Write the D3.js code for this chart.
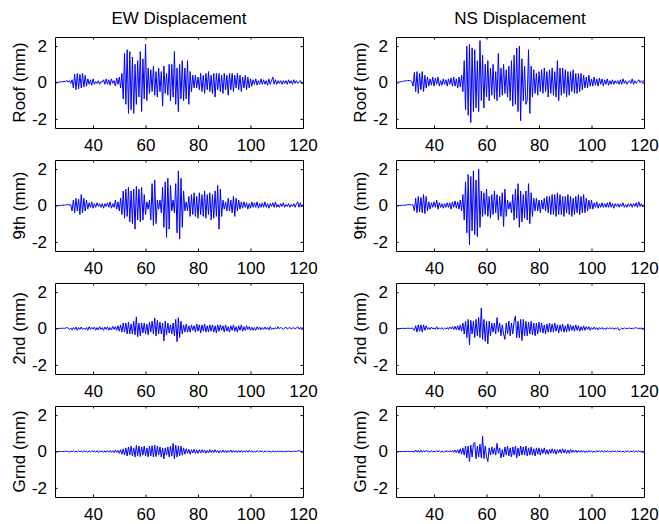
<!DOCTYPE html>
<html>
<head>
<meta charset="utf-8">
<script src="https://cdn.jsdelivr.net/npm/d3@7"></script>
<style>
  body { margin: 0; background: #fff; }
  svg text { font-family: "Liberation Sans", Arial, Helvetica, sans-serif; }
</style>
</head>
<body>
<div id="chart"></div>
<script>
// labels and axis settings
const columnTitles = ['EW Displacement', 'NS Displacement'];
const floorLabels = ['Roof (mm)', '9th (mm)', '2nd (mm)', 'Grnd (mm)'];
const xTicks = [40, 60, 80, 100, 120];
const yTicks = [-2, 0, 2];
const xDomain = [25.5, 120];
const yDomain = [-2.5, 2.5];

// samples are every 0.5 s starting at 25.5 s (mm)
const sampleStart = 25.5;
const sampleStep = 0.5;

const ewRoof = [
  0, .02, 0, .03, .02, .05, .03, .06, .04, .12, .02, .1, -.05, .15, -.3, .45, -.4, .5, -.35, .45,
  -.3, .5, -.25, .4, -.2, .2, -.1, .15, -.15, .2, -.1, .05, -.05, .1, -.1, .05, .02, .15, -.1, .2,
  -.1, .15, -.15, .2, -.05, .1, -.2, .25, -.1, .3, -.3, .5, -.9, 1.6, -1.2, 1.8, -1.7, 1.7, -1.5, 1.4,
  -1.7, 1.0, -1.2, 1.2, -.8, 1.7, -1.6, 1.3, -.9, 2.1, -1.0, .8, -.6, .7, -.5, .9, -.7, .6, -.8, .8,
  -.5, .6, -1.3, .9, -.6, .5, -.7, 1.0, -1.0, 1.0, -.8, 1.7, -1.2, .8, -1.6, 1.0, -.9, 1.2, -1.0, .8,
  -.9, 1.2, -1.2, .6, -.5, .4, -.3, .4, -.3, .3, -.4, .5, -.5, .4, -.6, .5, -.4, .6, -.5, .4,
  -.6, .5, -.8, .5, -.4, .5, -.5, .4, -.6, .5, -.4, .4, -.7, .5, -.4, .5, -.5, .4, -.3, .5,
  -.4, .4, -.5, .3, -.3, .4, -.4, .3, -.3, .2, -.2, .15, -.1, .2, -.15, .1, -.1, .2, -.1, .15,
  -.1, .1, -.15, .2, -.1, .1, .3, -.1, .15, -.1, .1, -.05, .1, -.1, .1, -.05, .1, -.1, .15, -.05,
  .1, -.1, .15, -.05, .1, -.05, .05, .1, -.05, .05
];
const nsRoof = [
  0, .01, .02, .03, .05, .05, .08, .1, .08, .12, .1, .1, .05, -.2, .55, -.5, .6, -.6, .5, -.4,
  .6, -.5, .4, -.3, .3, -.2, .2, -.15, .3, -.2, .25, -.1, .3, -.2, .1, -.15, .2, -.1, .15, -.2,
  .2, -.1, .25, -.2, .3, -.2, .2, -.3, .3, -.25, .4, -.5, 1.2, -1.5, 2.0, -1.8, 2.1, -2.2, 1.9, -1.6,
  1.8, -1.4, 1.2, -1.6, 2.3, -1.0, 1.5, -1.4, 1.0, -.8, 1.2, -1.0, .8, -.7, 1.0, -.9, .6, -1.0, 1.6, -.8,
  .8, -.7, 1.0, -.6, .7, -.8, .9, -1.0, 1.2, -1.3, 1.5, -1.2, 1.9, -1.6, 2.0, -2.1, 1.3, -1.0, .9, -1.2,
  -1.0, 1.8, -1.7, .9, -.8, .7, -.6, .5, -.7, .6, -.5, .7, -.6, .8, -.5, .6, -.8, .7, -.6, .8,
  -.7, .6, -.8, 1.2, -1.0, .8, -.7, .8, -.6, .7, -.8, .6, -.7, .6, -.5, .7, -.6, .5, -.6, .5,
  -.5, .5, -.4, .4, -.3, .3, -.3, .4, -.2, .2, -.2, .3, -.15, .2, -.2, .25, -.1, .2, -.2, .15,
  -.1, .2, -.15, .1, -.1, .15, -.1, .1, -.05, .1, -.1, .15, -.1, .2, -.05, .1, -.1, .05, .1, -.05,
  .2, -.1, .1, -.05, .05, .15, 0, .1, .05, .1
];
const ew9th = [
  0, 0, 0, .01, 0, .01, .02, .02, .03, .05, .04, .02, .05, -.3, .3, -.4, .4, -.3, .35, -.5,
  .6, -.4, .4, -.3, .3, -.2, .15, -.1, .2, -.15, .1, -.1, .15, -.05, .1, -.1, .1, -.15, .1, -.05,
  .15, -.1, .2, -.15, .1, -.1, .3, -.2, .2, -.3, .4, -.5, .8, -.7, .9, -.6, 1.0, -.9, .8, -1.0,
  .9, -1.3, 1.05, -.8, .9, -.9, 1.0, -.8, .6, -.5, .2, -.2, .3, -.8, 1.2, -1.1, 1.4, -1.0, .3, -.2,
  .3, -.4, 1.0, -1.2, 1.3, -1.75, 1.5, -1.3, 1.1, -.3, .3, -.4, 1.2, -1.5, 1.9, -1.85, 1.5, -1.2, .8, -.3,
  .2, -.3, .5, -.6, .6, -.5, .7, -.6, .5, -.7, .7, -.5, .6, -.6, .8, -.7, .6, -.5, .7, -.8,
  .6, -.7, .8, -.6, 1.1, -1.3, .9, -.6, .3, -.2, .2, -.3, .4, -.3, .3, -.4, .5, -.6, .4, -.3,
  .3, -.2, .2, -.15, .2, -.1, .15, -.2, .1, -.15, .2, -.1, .15, -.1, .2, -.15, .1, -.1, .15, -.1,
  .2, -.1, .1, -.15, .1, -.05, .15, -.1, .2, -.1, .05, -.1, .1, -.05, .15, -.1, .05, -.05, .1, -.1,
  .05, -.05, .1, -.1, .1, .2, -.1, .15, -.05, .05
];
const ns9th = [
  0, 0, 0, 0, .01, .02, .01, .02, .03, .05, .06, .03, .05, .02, -.3, .4, -.4, .5, -.35, .45,
  -.4, .6, -.45, .5, -.3, .2, -.2, .15, -.1, .2, -.1, .3, -.2, .15, -.1, .1, -.15, .1, -.1, .15,
  -.1, .15, -.2, .2, -.1, .25, -.15, .2, -.2, .3, -.3, .6, -.8, 1.3, -1.5, 1.7, -2.15, 1.6, -1.4, 1.9,
  -1.6, 1.4, -1.7, 2.0, -1.2, .8, -.6, .7, -.5, .9, -.6, .5, -.7, .6, -.5, .8, -.4, .6, -.8, .5,
  -.6, .7, -1.15, .9, -.6, .3, -.2, .2, -.4, .6, -.8, .9, -.7, 1.2, -1.2, .8, -.9, .6, -.7, .8,
  -.8, 1.2, -1.0, .7, -.6, .4, -.3, .4, -.3, .3, -.4, .3, -.2, .4, -.3, .5, -.4, .5, -.5, .6,
  -.5, .6, -.6, .7, -.5, .6, -.5, .5, -.6, .5, -.4, .6, -.5, .5, -.6, .4, -.5, .5, -.4, .6,
  -.5, .5, -.4, .6, -.4, .4, -.3, .3, -.2, .3, -.2, .15, -.1, .2, -.15, .1, -.1, .15, -.1, .1,
  -.1, .15, -.1, .2, -.1, .1, -.15, .1, -.05, .1, -.1, .1, -.05, .15, -.1, .05, -.1, .1, -.05, .1,
  -.1, .1, -.05, .15, -.1, .2, -.05, .1, -.05, .05
];
const ew2nd = [
  0, 0, 0, 0, .01, 0, .02, .01, .02, .06, .02, -.05, .03, -.08, .05, -.05, .08, -.1, .05, -.05,
  .08, -.05, .02, -.06, .05, -.1, .1, -.05, .06, -.03, .08, -.1, .05, -.08, .1, -.05, .05, -.1, .08, -.05,
  .1, -.1, .05, -.08, .12, -.05, .1, -.1, .15, -.15, .2, -.2, .3, -.2, .3, -.3, .35, -.3, .25, -.3,
  .4, -.35, .64, -.45, .3, -.4, .3, -.25, .3, -.3, .25, -.35, .35, -.2, .4, -.3, .58, -.4, .45, -.3,
  .35, -.3, .3, -.69, .4, -.35, .3, -.25, .2, -.3, .3, -.4, .5, -.73, .6, -.5, .4, -.3, .2, -.2,
  .25, -.2, .15, -.2, .2, -.1, .15, -.2, .25, -.15, .2, -.25, .2, -.15, .25, -.2, .15, -.2, .2, -.15,
  .2, -.2, .15, -.25, .2, -.15, .2, -.1, .15, -.2, .2, -.15, .1, -.2, .15, -.1, .2, -.15, .1, -.2,
  .15, -.1, .2, -.15, .1, -.1, .15, -.05, .1, -.1, .08, -.1, .05, -.1, .1, -.05, .08, -.08, .05, -.05,
  .08, -.05, .05, -.08, .1, -.05, .03, -.05, .05, -.03, .1, -.02, .05, .02, -.05, .02, .08, -.03, .02, .05,
  -.02, .02, .05, -.03, .02, .1, -.03, .05, .02, .03
];
const ns2nd = [
  0, 0, 0, 0, 0, .01, 0, .01, 0, .02, .01, 0, .02, .01, -.1, .15, -.2, .2, -.15, .2,
  -.2, .2, -.1, .15, -.05, .05, -.05, .08, -.02, .03, -.05, .1, -.05, .03, -.03, .05, -.05, .02, -.03, .05,
  -.05, .08, -.02, .1, -.05, .12, -.08, .15, -.1, .2, -.15, .3, -.3, .4, -.5, .5, -.9, .45, -.3, .4,
  -.5, .5, -.4, .6, -.5, 1.13, -.6, .5, -.7, .4, -.85, .4, -.4, .3, -.2, .3, -.3, .6, -.2, .3,
  -.4, .2, -.3, -.6, .3, -.3, .4, -.4, .3, -.3, .4, .69, -.5, .4, -.5, .5, -.67, .5, -.4, .4,
  -.4, .35, -.3, .4, -.35, .3, -.4, .3, -.3, .35, -.2, .3, -.25, .2, -.3, .25, -.2, .3, -.2, .25,
  -.2, .3, -.15, .2, -.25, .2, -.15, .25, -.2, .15, -.2, .25, -.15, .2, -.1, .15, -.15, .2, -.1, .15,
  -.15, .1, -.1, .15, -.1, .1, -.05, .1, -.1, .05, -.05, .08, -.05, .05, -.08, .05, -.03, .06, -.05, .03,
  -.05, .05, -.03, .05, -.02, .04, -.05, .03, -.02, .05, -.1, -.05, .02, -.03, .03, -.02, .02, 0, .03, -.02,
  .02, -.02, .03, .05, -.02, .02, 0, .03, -.01, .02
];
const ewGrnd = [
  0, 0, 0, 0, 0, 0, 0, .01, 0, .02, 0, -.03, .02, -.02, .03, -.04, .02, -.03, .04, -.02,
  .03, -.04, .05, -.03, .02, -.05, .04, -.03, .05, -.02, .03, -.04, .05, -.05, .03, -.02, .04, -.05, .03, -.04,
  .05, -.03, .06, -.05, .04, -.06, .08, -.05, .06, -.1, .1, -.15, .15, -.2, .2, -.25, .25, -.2, .3, -.25,
  .2, -.3, .33, -.25, .3, -.28, .25, -.2, .3, -.25, .2, -.3, .3, -.25, .32, -.3, .35, -.28, .3, -.2,
  .25, -.3, .2, -.4, .2, -.2, .25, -.3, .3, -.25, .45, -.4, .35, -.3, .3, -.25, .3, -.2, .2, -.15,
  .15, -.1, .12, -.15, .1, -.08, .12, -.1, .08, -.1, .1, -.08, .1, -.06, .08, -.1, .06, -.08, .1, -.05,
  .08, -.06, .1, -.05, .06, -.08, .05, -.06, .08, -.05, .06, -.07, .05, -.04, .08, -.05, .06, -.04, .05, -.06,
  .05, -.04, .06, -.05, .04, -.03, .05, -.04, .06, -.03, .04, -.05, .03, -.04, .05, -.03, .04, -.02, .03, -.04,
  .03, -.02, .04, -.03, .02, -.03, .03, -.02, .02, -.03, .03, -.01, .02, -.02, .01, -.02, .02, -.01, .02, -.01,
  .01, -.01, .02, .01, 0, .03, .05, .01, 0, .01
];
const nsGrnd = [
  0, 0, 0, 0, 0, 0, 0, 0, 0, .01, 0, 0, 0, .01, -.05, .08, -.03, .06, -.05, .07,
  -.04, .05, -.03, .06, -.02, .03, -.04, .05, -.02, .03, -.03, .05, -.02, .04, -.03, .02, -.04, .03, -.02, .05,
  -.03, .05, -.02, .06, -.05, .08, -.06, .1, -.1, .15, -.15, .2, -.2, .3, -.35, .3, -.55, .35, -.3, .4,
  .5, -.4, .3, -.3, .4, -.35, .84, -.4, .3, -.3, -.55, .2, -.2, .25, -.15, .2, -.2, .45, -.1, .2,
  -.35, .1, -.3, .25, -.2, .3, -.25, .2, -.3, .25, -.2, .3, -.35, .2, -.25, .3, -.2, .25, -.2, .3,
  -.25, .2, -.2, .25, -.2, .15, -.25, .2, -.15, .2, -.2, .15, -.1, .2, -.15, .1, -.15, .12, -.1, .15,
  -.1, .12, -.15, .1, -.08, .12, -.1, .15, -.08, .1, -.1, .08, -.1, .12, -.06, .08, -.05, .08, -.06, .05,
  -.05, .06, -.04, .05, -.06, .04, -.05, .06, -.03, .04, -.05, .03, -.04, .05, -.03, .04, -.02, .05, -.04, .03,
  -.03, .04, -.02, .03, -.04, .05, -.02, .03, -.03, .04, -.02, .03, -.03, .02, -.04, .03, -.02, .04, -.03, .02,
  -.02, .03, -.03, .04, -.02, .03, -.02, .02, -.03, .02
];

// [row][column]
const series = [
  [ewRoof, nsRoof],
  [ew9th, ns9th],
  [ew2nd, ns2nd],
  [ewGrnd, nsGrnd]
];

const width = 659;
const height = 524;
const colLeft = [55, 396];
const rowTop = [37, 160, 283, 406];
const plotW = 248;
const plotH = 91;
const tickLen = 2.5;

const svg = d3.select('#chart')
  .append('svg')
  .attr('width', width)
  .attr('height', height);

const x = d3.scaleLinear().domain(xDomain).range([0, plotW]);
const y = d3.scaleLinear().domain(yDomain).range([plotH, 0]);

const line = d3.line()
  .x((d, i) => x(sampleStart + i * sampleStep))
  .y(d => y(d));

// plain "-2" like matlab, not the unicode minus
const plainFormat = d => String(d);

series.forEach((row, r) => {
  row.forEach((values, c) => {
    const g = svg.append('g')
      .attr('transform', `translate(${colLeft[c]},${rowTop[r]})`);

    g.append('path')
      .datum(values)
      .attr('fill', 'none')
      .attr('stroke', '#0000ff')
      .attr('stroke-width', 1)
      .attr('stroke-linejoin', 'round')
      .attr('d', line);

    // box with inward ticks on all four sides
    const bottom = g.append('g')
      .attr('transform', `translate(0,${plotH})`)
      .call(d3.axisBottom(x).tickValues(xTicks).tickFormat(plainFormat)
        .tickSizeInner(-tickLen).tickSizeOuter(0).tickPadding(11));
    const top = g.append('g')
      .call(d3.axisTop(x).tickValues(xTicks).tickSizeInner(-tickLen).tickSizeOuter(0).tickFormat(''));
    const left = g.append('g')
      .call(d3.axisLeft(y).tickValues(yTicks).tickFormat(plainFormat)
        .tickSizeInner(-tickLen).tickSizeOuter(0).tickPadding(8));
    const right = g.append('g')
      .attr('transform', `translate(${plotW},0)`)
      .call(d3.axisRight(y).tickValues(yTicks).tickSizeInner(-tickLen).tickSizeOuter(0).tickFormat(''));

    [bottom, top, left, right].forEach(a => {
      a.selectAll('path, line').attr('stroke', '#000').attr('stroke-width', 1);
      a.selectAll('text').attr('fill', '#000').style('font-size', '17px');
    });

    g.append('text')
      .attr('transform', `translate(-30,${plotH / 2}) rotate(-90)`)
      .attr('text-anchor', 'middle')
      .style('font-size', '17px')
      .text(floorLabels[r]);

    if (r === 0) {
      g.append('text')
        .attr('x', plotW / 2)
        .attr('y', -13)
        .attr('text-anchor', 'middle')
        .style('font-size', '17px')
        .text(columnTitles[c]);
    }
  });
});
</script>
</body>
</html>
